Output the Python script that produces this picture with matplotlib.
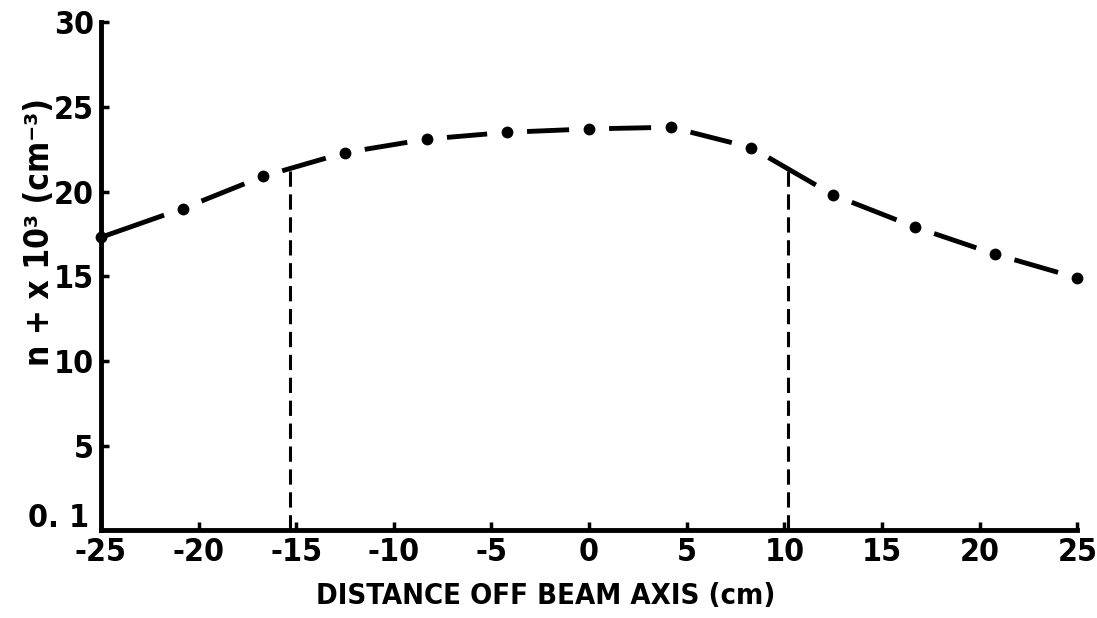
import numpy as np
import matplotlib
matplotlib.use("Agg")
import matplotlib.pyplot as plt

# measured ion density across the beam
distance = [-25, -20.8, -16.7, -12.5, -8.3, -4.2, 0, 4.2, 8.3, 12.5, 16.7, 20.8, 25]
density = [17.3, 19.0, 20.9, 22.3, 23.1, 23.5, 23.7, 23.8, 22.6, 19.8, 17.9, 16.3, 14.9]

# beam edges
edges = [-15.3, 10.2]

xticks = [-25, -20, -15, -10, -5, 0, 5, 10, 15, 20, 25]
yticks = [0, 5, 10, 15, 20, 25, 30]
ytick_labels = ["", "5", "10", "15", "20", "25", "30"]

plt.rcParams["font.family"] = ["DejaVu Sans"]
plt.rcParams["font.stretch"] = "condensed"
plt.rcParams["font.weight"] = "bold"
plt.rcParams["axes.labelweight"] = "bold"
plt.rcParams["axes.unicode_minus"] = False

fig = plt.figure(figsize=(10.97, 6.18), dpi=100)
ax = fig.add_axes([0.092, 0.142, 0.89, 0.822])
ax.set_xlim(-25, 25)
ax.set_ylim(0, 30)

# dash between neighbouring dots, leaving a gap (pixels) at each dot
gap = 20
pts = ax.transData.transform(np.column_stack([distance, density]))
inv = ax.transData.inverted()
for i in range(len(pts) - 1):
    p0, p1 = pts[i], pts[i + 1]
    u = (p1 - p0) / np.hypot(*(p1 - p0))
    a = p0 + u * (0 if i == 0 else gap)
    b = p1 - u * gap
    seg = inv.transform([a, b])
    ax.plot(seg[:, 0], seg[:, 1], color="black", lw=3.5, solid_capstyle="butt",
            zorder=2, clip_on=False)
ax.plot(distance, density, "o", ms=8.5, mfc="black", mec="none", zorder=4, clip_on=False)

for e in edges:
    top = np.interp(e, distance, density)
    ax.plot([e, e], [0, top], color="black", lw=2.2, ls=(0, (5, 2.5)), zorder=1)

ax.set_xticks(xticks)
ax.set_yticks(yticks)
ax.set_yticklabels(ytick_labels)
ax.tick_params(direction="in", length=6, width=2.5, labelsize=23)
ax.tick_params(axis="y", pad=5)
ax.tick_params(axis="x", pad=5)
ax.text(-0.012, 0.7, "0. 1", transform=ax.get_yaxis_transform(),
        ha="right", va="center", fontsize=23)

for s in ["top", "right"]:
    ax.spines[s].set_visible(False)
for s in ["left", "bottom"]:
    ax.spines[s].set_linewidth(3.5)

ax.set_xlabel("DISTANCE OFF BEAM AXIS (cm)", fontsize=21, fontweight="bold")
ax.xaxis.set_label_coords(0.456, -0.13)
ax.xaxis.label.set_va("center")
ax.set_ylabel("n + x 10³ (cm⁻³)", fontsize=24, fontweight="bold")
ax.yaxis.set_label_coords(-0.063, 0.587)
ax.yaxis.label.set_va("center")

fig.savefig("out.png", dpi=100)
